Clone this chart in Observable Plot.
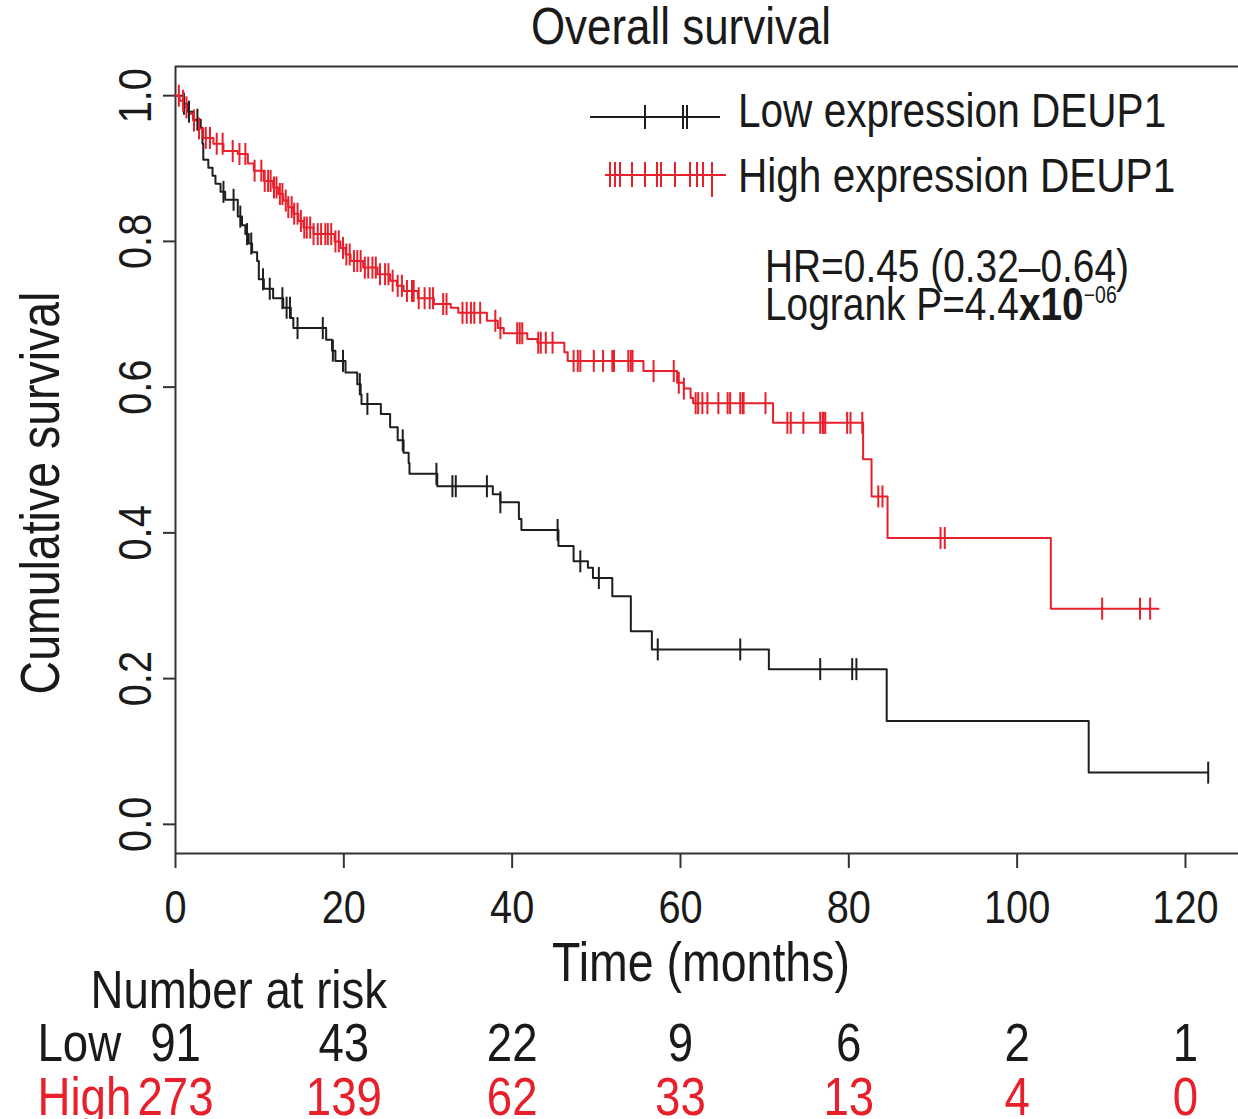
<!DOCTYPE html>
<html>
<head>
<meta charset="utf-8">
<script src="https://cdn.jsdelivr.net/npm/d3@7"></script>
<script src="https://cdn.jsdelivr.net/npm/@observablehq/plot@0.6"></script>
<style>
  html, body { margin: 0; padding: 0; background: #fff; }
  #chart { width: 1238px; height: 1119px; overflow: hidden; }
</style>
</head>
<body>
<div id="chart"></div>
<script>
// ---------- data ----------
const chartTitle = "Overall survival";
const xLabel = "Time (months)";
const yLabel = "Cumulative survival";
const xTicks = [0, 20, 40, 60, 80, 100, 120];
const yTicks = [0, 0.2, 0.4, 0.6, 0.8, 1.0];
const xDomain = [0, 126.3];
const yDomain = [-0.04, 1.04];

const seriesNames = ["Low expression DEUP1", "High expression DEUP1"];
const groupLabels = ["Low", "High"];

// Kaplan-Meier step points [time (months), survival]
const lowSteps = [
  [0, 1], [0.95, 0.989], [1.4, 0.978], [2.1, 0.967], [3.0, 0.956], [3.2, 0.934], [3.3, 0.912],
  [3.9, 0.901], [4.4, 0.89], [4.75, 0.879], [5.35, 0.868], [5.9, 0.857], [7.4, 0.834], [7.9, 0.822],
  [8.3, 0.81], [8.7, 0.797], [9.1, 0.785], [9.7, 0.773], [9.9, 0.748], [10.5, 0.735], [11.6, 0.722],
  [12.8, 0.709], [13.7, 0.695], [14.0, 0.681], [17.9, 0.665], [18.6, 0.65], [19.0, 0.636], [20.2, 0.62],
  [21.6, 0.604], [22.0, 0.59], [22.1, 0.577], [24.4, 0.563], [25.5, 0.545], [26.4, 0.527], [27.1, 0.51],
  [27.7, 0.496], [27.8, 0.481], [31.1, 0.464], [37.7, 0.453], [38.6, 0.442], [40.8, 0.419], [41.1, 0.404],
  [45.5, 0.382], [47.3, 0.361], [49.0, 0.352], [49.6, 0.338], [51.9, 0.313], [54.1, 0.265], [56.6, 0.240],
  [70.5, 0.213], [84.5, 0.142], [108.5, 0.071], [122.7, 0.071]
];
const highSteps = [
  [0, 1], [0.5, 0.993], [0.95, 0.984], [1.6, 0.975], [2.1, 0.966], [2.7, 0.955], [3.3, 0.942],
  [4.5, 0.934], [5.7, 0.924], [7.4, 0.92], [8.6, 0.907], [9.3, 0.897], [10.5, 0.883], [11.6, 0.874],
  [12.2, 0.865], [12.8, 0.856], [13.4, 0.847], [14.0, 0.838], [14.6, 0.828], [15.2, 0.819], [16.4, 0.81],
  [18.9, 0.80], [19.6, 0.791], [20.2, 0.782], [20.8, 0.773], [22.3, 0.764], [24.0, 0.755], [25.5, 0.746],
  [26.3, 0.739], [27.1, 0.732], [28.8, 0.722], [30.7, 0.714], [32.7, 0.709], [33.6, 0.702], [37.0, 0.691],
  [38.3, 0.681], [39.0, 0.674], [41.8, 0.666], [43.0, 0.661], [46.2, 0.648], [46.6, 0.636], [55.6, 0.622],
  [59.6, 0.606], [60.4, 0.598], [61.2, 0.585], [61.5, 0.578], [71.0, 0.551], [81.7, 0.501], [82.7, 0.45],
  [84.6, 0.393], [104.0, 0.296], [116.8, 0.296]
];

// censoring times (months)
const lowCensor = [1.0, 1.6, 2.6, 5.7, 6.9, 7.7, 8.5, 9.0, 10.4, 11.2, 12.7, 13.2, 13.6, 14.5, 17.5,
  18.7, 19.9, 21.9, 22.8, 27.0, 31.0, 32.9, 33.3, 37.0, 38.6, 45.4, 48.1, 50.3, 57.3, 67.1, 76.6,
  80.4, 80.9, 122.7];
const highCensor = [0.4, 0.9, 1.3, 2.2, 2.8, 3.6, 4.1, 4.9, 5.6, 6.8, 7.6, 8.3, 9.4, 10.2, 10.6, 11.0,
  11.3, 11.7, 12.0, 12.4, 12.7, 13.1, 13.4, 13.8, 14.1, 14.5, 14.9, 15.3, 15.6, 16.0, 16.4, 16.9, 17.3,
  17.8, 18.1, 18.5, 19.0, 19.4, 19.9, 20.3, 20.7, 21.2, 21.6, 22.0, 22.5, 22.9, 23.4, 23.8, 24.3, 24.9,
  25.3, 25.8, 26.4, 26.9, 27.5, 28.1, 28.3, 28.9, 29.6, 30.2, 30.6, 31.8, 32.2, 34.1, 34.6, 35.1, 35.5,
  36.2, 38.0, 38.6, 40.6, 40.9, 41.2, 43.1, 43.4, 44.0, 44.8, 47.3, 47.8, 48.1, 49.7, 50.8, 51.9, 52.1,
  53.8, 54.1, 54.3, 56.8, 59.2, 59.8, 60.4, 61.8, 62.1, 62.6, 63.2, 64.5, 65.6, 65.9, 67.1, 67.4, 67.5,
  70.1, 72.7, 73.1, 74.6, 76.6, 76.9, 77.0, 77.2, 79.8, 80.2, 81.6, 83.5, 84.0, 90.9, 91.4, 110.1,
  114.6, 115.8];

// number at risk
const riskTimes = [0, 20, 40, 60, 80, 100, 120];
const riskLow = [91, 43, 22, 9, 6, 2, 1];
const riskHigh = [273, 139, 62, 33, 13, 4, 0];

const hrText = "HR=0.45 (0.32\u20130.64)";
const pText = ["Logrank P=4.4", "x10", "\u221206"];

// ---------- styling ----------
const colLow = "#1e1e1e";
const colHigh = "#e8202c";
const font = "'Liberation Sans', Arial, Helvetica, sans-serif";
const narrow = 0.845; // horizontal squeeze of the reference's lettering

// ---------- build tables ----------
function survAt(steps, t) {
  let s = steps[0][1];
  for (const [ti, si] of steps) { if (ti <= t) s = si; else break; }
  return s;
}
const lineData = [
  ...lowSteps.map(([t, s]) => ({t, s, g: "Low"})),
  ...highSteps.map(([t, s]) => ({t, s, g: "High"}))
];
const censorData = [
  ...lowCensor.map(t => ({t, s: survAt(lowSteps, t), g: "Low"})),
  ...highCensor.map(t => ({t, s: survAt(highSteps, t), g: "High"}))
];
const vbar = { draw(ctx, size) { ctx.moveTo(0, -11); ctx.lineTo(0, 11); } };
const riskLowData = riskTimes.map((t, i) => ({t, n: riskLow[i]}));
const riskHighData = riskTimes.map((t, i) => ({t, n: riskHigh[i]}));

const chart = Plot.plot({
  width: 1238,
  height: 1119,
  marginLeft: 175,
  marginRight: 0,
  marginTop: 66,
  marginBottom: 266,
  style: { fontFamily: font, background: "#fff", color: "#1a1a1a", overflow: "visible" },
  x: { domain: xDomain },
  y: { domain: yDomain },
  color: { domain: ["Low", "High"], range: [colLow, colHigh] },
  marks: [
    Plot.ruleX([xDomain[0]], { stroke: "#333", strokeWidth: 2 }),
    Plot.ruleY(yDomain, { stroke: "#333", strokeWidth: 2 }),
    Plot.axisX({ ticks: xTicks, tickSize: 15, tickPadding: 21, fontSize: 47, label: null, strokeWidth: 2, stroke: "#333" }),
    Plot.axisY({ ticks: yTicks, tickSize: 12, tickPadding: 13, tickRotate: -90, tickFormat: d3.format(".1f"), fontSize: 47, label: null, strokeWidth: 2, stroke: "#333" }),
    Plot.line(lineData, { x: "t", y: "s", z: "g", stroke: "g", curve: "step-after", strokeWidth: 2 }),
    Plot.dot(censorData, { x: "t", y: "s", stroke: "g", symbol: vbar, r: 5, strokeWidth: 2 }),
    // title and axis labels
    Plot.text([chartTitle], { text: d => d, frameAnchor: "top", textAnchor: "middle", dx: -26, dy: -23, lineAnchor: "bottom", fontSize: 52, fill: "#1a1a1a" }),
    Plot.text([xLabel], { text: d => d, frameAnchor: "bottom", textAnchor: "middle", dx: -6, dy: 127, lineAnchor: "bottom", fontSize: 55, fill: "#1a1a1a" }),
    Plot.text([yLabel], { text: d => d, frameAnchor: "left", textAnchor: "middle", rotate: -90, dx: -117, dy: 33, lineAnchor: "bottom", fontSize: 55, fill: "#1a1a1a" }),
    // number at risk table
    Plot.text(["Number at risk"], { text: d => d, frameAnchor: "bottom-left", textAnchor: "start", dx: -85, dy: 154, lineAnchor: "bottom", fontSize: 54, fill: "#1a1a1a" }),
    Plot.text([groupLabels[0]], { text: d => d, frameAnchor: "bottom-left", textAnchor: "start", dx: -138, dy: 207, lineAnchor: "bottom", fontSize: 54, fill: "#1a1a1a" }),
    Plot.text([groupLabels[1]], { text: d => d, frameAnchor: "bottom-left", textAnchor: "start", dx: -138, dy: 261, lineAnchor: "bottom", fontSize: 54, fill: colHigh }),
    Plot.text(riskLowData, { x: "t", text: "n", frameAnchor: "bottom", textAnchor: "middle", dy: 207, lineAnchor: "bottom", fontSize: 54, fill: "#1a1a1a" }),
    Plot.text(riskHighData, { x: "t", text: "n", frameAnchor: "bottom", textAnchor: "middle", dy: 261, lineAnchor: "bottom", fontSize: 54, fill: colHigh })
  ]
});
document.getElementById("chart").appendChild(chart);

// ---------- legend and statistics annotation ----------
const svg = d3.select(chart);
const leg = svg.append("g").attr("font-family", font).attr("text-anchor", "start");
// low legend
leg.append("line").attr("x1", 590).attr("x2", 720).attr("y1", 117).attr("y2", 117)
  .attr("stroke", colLow).attr("stroke-width", 2);
[645, 683, 687].forEach(x => leg.append("line").attr("x1", x).attr("x2", x).attr("y1", 105).attr("y2", 129)
  .attr("stroke", colLow).attr("stroke-width", 2));
leg.append("text").attr("x", 738).attr("y", 127).attr("font-size", 48).attr("fill", "#1a1a1a").text(seriesNames[0]);
// high legend
leg.append("line").attr("x1", 605).attr("x2", 726).attr("y1", 175).attr("y2", 175)
  .attr("stroke", colHigh).attr("stroke-width", 2);
[610, 615, 620, 632, 645, 657, 661, 675, 690, 697, 703].forEach(x => leg.append("line").attr("x1", x).attr("x2", x)
  .attr("y1", 162).attr("y2", 187).attr("stroke", colHigh).attr("stroke-width", 2));
leg.append("line").attr("x1", 712).attr("x2", 712).attr("y1", 162).attr("y2", 197).attr("stroke", colHigh).attr("stroke-width", 2);
leg.append("text").attr("x", 738).attr("y", 192).attr("font-size", 48).attr("fill", "#1a1a1a").text(seriesNames[1]);
// HR / logrank
leg.append("text").attr("x", 765).attr("y", 282).attr("font-size", 46).attr("fill", "#1a1a1a").text(hrText);
const pt = leg.append("text").attr("x", 765).attr("y", 320).attr("font-size", 46).attr("fill", "#1a1a1a");
pt.append("tspan").text(pText[0]);
pt.append("tspan").attr("font-weight", "bold").text(pText[1]);
pt.append("tspan").attr("font-size", 23).attr("dy", -17).text(pText[2]);

// squeeze all lettering horizontally (in each text's own frame) to match the reference's narrow type
svg.selectAll("text").each(function () {
  const t = this.getAttribute("transform") || "";
  const x = this.getAttribute("x");
  if (x != null && x !== "" && !isNaN(+x)) this.setAttribute("x", (+x) / narrow);
  this.setAttribute("transform", (t ? t + " " : "") + `scale(${narrow},1)`);
});
</script>
</body>
</html>
